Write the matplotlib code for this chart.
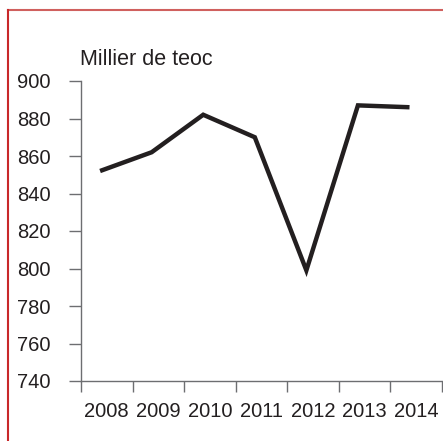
import matplotlib
matplotlib.use("Agg")
import matplotlib.pyplot as plt
from matplotlib.lines import Line2D
import numpy as np

years = ["2008", "2009", "2010", "2011", "2012", "2013", "2014"]
values = [852, 862, 882, 870, 799, 887, 886]
yticks = [740, 760, 780, 800, 820, 840, 860, 880, 900]
unit_label = "Millier de teoc"

plt.rcParams['font.family'] = ['Liberation Sans', 'DejaVu Sans']
txt = '#231f20'
axc = '#6d6e71'

fig = plt.figure(figsize=(4.43, 4.41), dpi=100)
ax = fig.add_axes([81/443, 60/441, (442-81)/443, 300/441])

x = np.arange(len(years))
ax.plot(x, values, color='#231f20', lw=3.2, solid_joinstyle='miter', solid_capstyle='butt')

ax.set_xlim(-0.37, len(years) - 0.42)
ax.set_ylim(740, 900)
ax.set_yticks(yticks)
ax.set_yticklabels([str(v) for v in yticks])

bounds = np.arange(len(years) + 1) - 0.37
ax.set_xticks(bounds)
ax.set_xticklabels([''] * len(bounds))
ax.set_xticks(x + 0.13, minor=True)
ax.set_xticklabels(years, minor=True)

for s in ['top', 'right']:
    ax.spines[s].set_visible(False)
for s in ['left', 'bottom']:
    ax.spines[s].set_color(axc)
    ax.spines[s].set_linewidth(1.0)

ax.tick_params(axis='y', which='major', length=9, width=1, color=axc, direction='out',
               labelsize=14.5, labelcolor=txt, pad=13)
ax.tick_params(axis='x', which='major', length=8, width=1, color=axc, direction='out')
ax.tick_params(axis='x', which='minor', length=0, labelsize=14.5, labelcolor=txt, pad=15)

fig.text(80/443, 1 - 65/441, unit_label, fontsize=15.5, color=txt, ha='left', va='baseline')

fig.add_artist(Line2D([8/443, 1], [1 - 10/441, 1 - 10/441], transform=fig.transFigure,
                      color='#d0605e', lw=1.5))
fig.add_artist(Line2D([8/443, 8/443], [0, 1 - 10/441], transform=fig.transFigure,
                      color='#c8282a', lw=1.5))

fig.savefig('out.png', dpi=100)
